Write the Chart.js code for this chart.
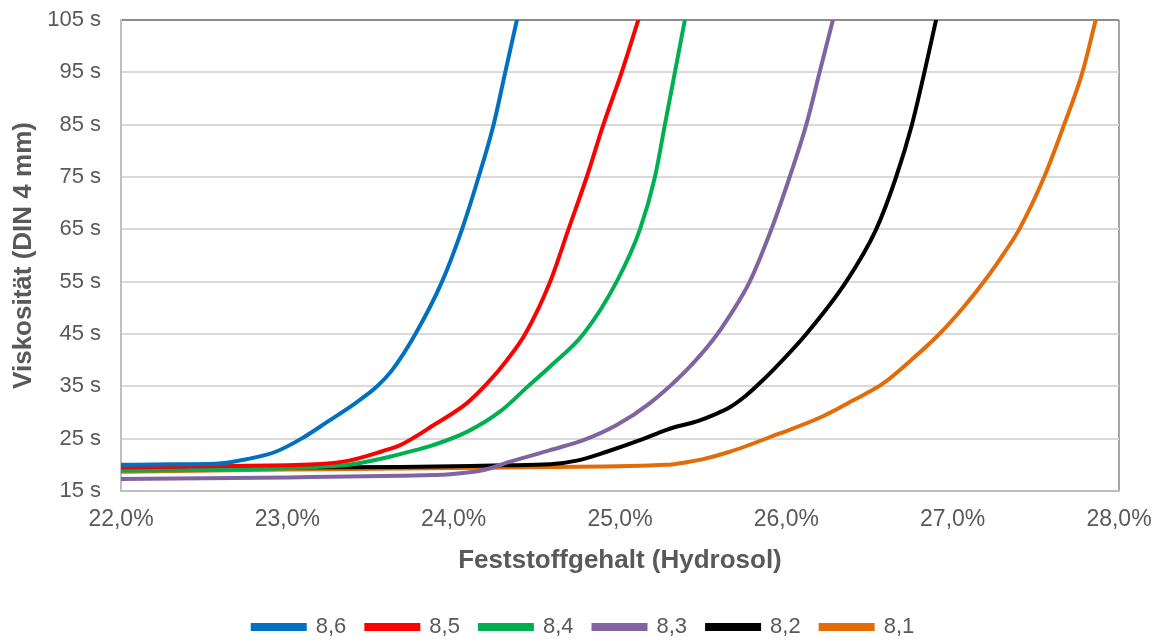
<!DOCTYPE html>
<html>
<head>
<meta charset="utf-8">
<script src="https://cdn.jsdelivr.net/npm/chart.js@4.4.1/dist/chart.umd.min.js"></script>
<style>
  html, body { margin: 0; padding: 0; background: #ffffff; }
  #wrap { width: 1161px; height: 641px; position: relative; }
</style>
</head>
<body>
<div id="wrap"><canvas id="c" width="1161" height="641"></canvas></div>
<script>
// ---- data ----
const seriesLabels = ['8,6', '8,5', '8,4', '8,3', '8,2', '8,1'];
const seriesColors = ['#0070C0', '#FF0000', '#00B050', '#8064A2', '#000000', '#E36C09'];

const x86 = [22.0, 22.3, 22.57, 22.76, 22.93, 23.09, 23.24, 23.41, 23.54, 23.63, 23.77, 23.93, 24.05, 24.15, 24.24, 24.31, 24.38];
const y86 = [20.0, 20.1, 20.2, 21.1, 22.5, 25.1, 28.2, 31.8, 35.0, 38.1, 45, 55, 65, 75, 85, 95, 105];

const x85 = [22.0, 22.6, 23.17, 23.37, 23.57, 23.68, 23.88, 24.08, 24.2, 24.32, 24.43, 24.58, 24.69, 24.8, 24.9, 25.01, 25.11];
const y85 = [19.5, 19.8, 20.1, 20.8, 22.6, 23.8, 27.6, 31.8, 35.5, 40.0, 45, 55, 65, 75, 85, 95, 105];

const x84 = [22.0, 22.8, 23.17, 23.37, 23.57, 23.77, 23.88, 24.08, 24.28, 24.44, 24.58, 24.78, 24.98, 25.12, 25.21, 25.27, 25.33, 25.39];
const y84 = [18.9, 19.2, 19.6, 20.0, 21.2, 22.8, 23.8, 26.3, 30.2, 34.8, 38.8, 45, 55, 65, 75, 85, 95, 105];

const x83 = [22.0, 23.0, 23.68, 23.98, 24.18, 24.34, 24.58, 24.78, 24.98, 25.18, 25.4, 25.55, 25.67, 25.78, 25.91, 26.02, 26.12, 26.2, 26.28];
const y83 = [17.3, 17.6, 17.9, 18.2, 19.0, 20.6, 22.8, 24.7, 27.6, 31.8, 38.1, 43.5, 49.0, 55, 65, 75, 85, 95, 105];

const x82 = [22.0, 23.0, 23.68, 24.3, 24.58, 24.74, 24.92, 25.12, 25.28, 25.48, 25.56, 25.66, 25.76, 25.82, 25.92, 26.12, 26.36, 26.54, 26.66, 26.755, 26.83, 26.9];
const y82 = [19.3, 19.5, 19.6, 19.9, 20.1, 20.8, 22.5, 24.7, 26.7, 28.5, 29.5, 31.0, 33.3, 35, 38.1, 45, 55, 65, 75, 85, 95, 105];

const x81 = [22.0, 23.0, 23.68, 24.58, 25.28, 25.4, 25.5, 25.66, 25.96, 26.2, 26.4, 26.58, 26.75, 26.92, 27.07, 27.2, 27.31, 27.4, 27.55, 27.67, 27.78, 27.86];
const y81 = [18.7, 19.1, 19.3, 19.6, 20.0, 20.5, 21.1, 22.5, 26.0, 29.0, 32.3, 35.5, 40.0, 45, 50.3, 55.5, 60.5, 65, 75, 85, 95, 105];

const seriesX = [x86, x85, x84, x83, x82, x81];
const seriesY = [y86, y85, y84, y83, y82, y81];

const xTitle = 'Feststoffgehalt (Hydrosol)';
const yTitle = 'Viskosität (DIN 4 mm)';
const xMin = 22, xMax = 28, xStep = 1;
const yMin = 15, yMax = 105, yStep = 10;

// ---- chart ----
const FONT = "'Liberation Sans', Arial, sans-serif";
const TXT = '#595959';

const datasets = seriesLabels.map((lab, i) => ({
  label: lab,
  data: seriesX[i].map((x, j) => ({ x: x, y: seriesY[i][j] })),
  borderColor: seriesColors[i],
  backgroundColor: seriesColors[i],
  borderWidth: 4,
  pointRadius: 0,
  cubicInterpolationMode: 'monotone',
  borderCapStyle: 'round',
  fill: false
}));

const legendShift = {
  id: 'legendShift',
  afterLayout(chart) {
    const lg = chart.legend;
    if (!lg) return;
    lg.left += 24; lg.right += 24;
    lg.top += 7; lg.bottom += 7;
  }
};

new Chart(document.getElementById('c'), {
  type: 'line',
  data: { datasets: datasets },
  options: {
    responsive: false,
    animation: false,
    devicePixelRatio: 1,
    layout: { padding: { left: 0, right: 42, top: 20, bottom: 0 } },
    plugins: {
      legend: {
        position: 'bottom',
        labels: {
          color: TXT,
          font: { family: FONT, size: 22 },
          boxWidth: 52,
          boxHeight: 4,
          padding: 20
        }
      },
      tooltip: { enabled: false }
    },
    scales: {
      x: {
        type: 'linear',
        min: xMin, max: xMax,
        afterFit(s) { s.height = 98; s.paddingLeft = 0; s.paddingRight = 0; },
        ticks: {
          stepSize: xStep,
          color: TXT,
          padding: 15,
          font: { family: FONT, size: 23 },
          callback: v => v.toFixed(1).replace('.', ',') + '%'
        },
        grid: {
          drawTicks: false,
          color: ctx => (ctx.tick && ctx.tick.value === xMax) ? '#a6a6a6' : 'rgba(0,0,0,0)',
          lineWidth: 2
        },
        border: { color: '#bfbfbf', width: 2 },
        title: {
          display: true,
          text: xTitle,
          color: TXT,
          font: { family: FONT, size: 26, weight: 'bold' },
          padding: { top: 0, bottom: 13 }
        }
      },
      y: {
        type: 'linear',
        min: yMin, max: yMax,
        afterFit(s) { s.width = 121; s.paddingTop = 0; s.paddingBottom = 0; },
        ticks: {
          stepSize: yStep,
          color: TXT,
          padding: 20,
          font: { family: FONT, size: 22 },
          callback: v => v + ' s'
        },
        grid: {
          drawTicks: false,
          color: ctx => (ctx.tick && ctx.tick.value === yMax) ? '#8c8c8c' : '#d9d9d9',
          lineWidth: 2
        },
        border: { color: '#bfbfbf', width: 2 },
        title: {
          display: true,
          text: yTitle,
          color: TXT,
          font: { family: FONT, size: 26, weight: 'bold' },
          padding: { top: 8, bottom: 0 }
        }
      }
    }
  },
  plugins: [legendShift]
});
</script>
</body>
</html>
